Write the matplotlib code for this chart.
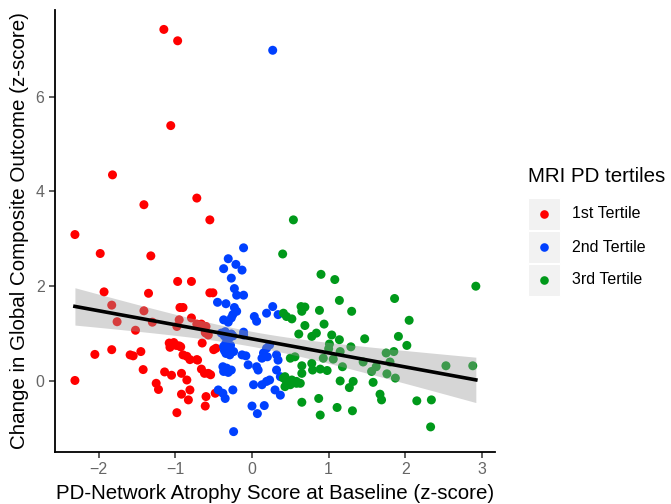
import numpy as np
import matplotlib
matplotlib.use("Agg")
import matplotlib.pyplot as plt
from matplotlib.patches import Rectangle
from matplotlib.lines import Line2D

plt.rcParams["font.family"] = ["Liberation Sans", "DejaVu Sans"]

# 1st tertile (red)
t1_x = [-1.15, -0.97, -1.06, -1.82, -1.41, -0.72, -0.55, -2.31, -1.98, -1.32,
        -0.97, -0.79, -1.93, -1.35, -1.83, -0.94, -0.90, -1.41, -1.76, -1.30,
        -0.79, -0.95, -0.98, -1.52, -0.72, -0.66, -0.60, -0.60, -0.57, -0.55,
        -0.51, -2.05, -1.83, -1.59, -1.55, -1.45, -2.31, -1.42, -1.14, -1.05,
        -1.25, -1.22, -1.08, -1.05, -1.02, -0.99, -0.95, -0.93, -1.07, -0.90,
        -0.85, -0.81, -0.72, -0.65, -0.66, -0.62, -0.57, -0.54, -0.92, -0.85,
        -0.81, -0.83, -0.92, -0.60, -0.61, -0.98, -0.50, -0.47, -0.48, -0.71,
        -0.61]
t1_y = [7.42, 7.18, 5.39, 4.35, 3.72, 3.86, 3.40, 3.09, 2.69, 2.64,
        2.10, 2.10, 1.88, 1.85, 1.60, 1.55, 1.55, 1.48, 1.25, 1.24,
        1.33, 1.29, 1.15, 1.07, 1.20, 1.20, 1.15, 1.01, 0.97, 1.86,
        1.86, 0.56, 0.66, 0.55, 0.53, 0.62, 0.01, 0.24, 0.19, 0.12,
        -0.05, -0.18, 0.80, 0.78, 0.81, 0.75, 0.74, 0.72, 0.71, 0.55,
        0.52, 0.45, 0.45, 0.80, 0.25, 0.16, 0.16, 0.13, 0.16, 0.02,
        -0.19, -0.40, -0.28, -0.33, -0.53, -0.67, 0.66, 0.69, -0.26, 0.44,
        1.02]

# 2nd tertile (blue)
t2_x = [0.27, -0.11, -0.31, -0.21, -0.13, -0.37, -0.27, -0.23, -0.20, -0.11,
        -0.45, -0.34, -0.23, -0.20, -0.25, -0.37, -0.31, -0.27, 0.03, 0.06,
        0.19, 0.27, 0.34, -0.35, -0.11, -0.40, -0.27, -0.33, -0.37, -0.31,
        -0.24, -0.34, -0.29, -0.38, -0.33, -0.27, -0.31, -0.37, -0.08, -0.05,
        0.06, 0.08, 0.15, 0.20, 0.32, 0.34, 0.32, 0.37, 0.02, 0.13,
        0.19, 0.23, 0.30, 0.37, -0.44, -0.38, -0.35, -0.25, 0.00, 0.07,
        0.16, -0.24, 0.23, 0.19, 0.13, -0.36, -0.30, -0.25, -0.34, -0.28,
        -0.36, -0.11, -0.13]
t2_y = [6.98, 2.81, 2.58, 2.46, 2.34, 2.37, 2.17, 1.95, 1.81, 1.81,
        1.66, 1.63, 1.55, 1.47, 1.40, 1.29, 1.24, 1.33, 1.36, 1.26,
        1.43, 1.57, 1.40, 1.04, 1.03, 1.01, 0.99, 0.97, 0.73, 0.69,
        0.62, 0.58, 0.55, 0.30, 0.27, 0.23, 0.18, 0.20, 0.53, 0.34,
        0.30, 0.23, 0.59, 0.51, 0.55, 0.44, 0.23, 0.09, -0.08, -0.08,
        -0.01, 0.02, -0.19, -0.30, -0.19, -0.26, -0.37, -0.19, -0.53, -0.69,
        -0.52, -1.07, 0.76, 0.69, 0.48, 0.95, 0.90, 0.95, 0.80, 0.75,
        0.64, 0.97, 0.55]

# 3rd tertile (green)
t3_x = [0.54, 0.40, 0.90, 1.08, 2.92, 1.14, 1.86, 1.30, 0.69, 0.65,
        0.64, 0.88, 2.05, 0.69, 0.94, 0.61, 0.78, 0.84, 1.04, 1.14,
        1.47, 1.91, 2.02, 1.01, 1.00, 1.29, 1.15, 0.93, 1.06, 1.75,
        1.85, 1.80, 1.45, 1.18, 0.78, 0.79, 0.89, 0.98, 0.65, 0.65,
        1.56, 1.62, 1.76, 1.87, 2.53, 2.88, 1.15, 1.32, 1.27, 1.58,
        0.63, 1.67, 1.69, 2.15, 2.34, 0.65, 0.87, 1.11, 1.31, 0.89,
        2.33, 0.41, 0.45, 0.52, 0.50, 0.56, 0.41, 0.45, 0.52, 0.43,
        0.58, 0.43, 0.50, 0.58]
t3_y = [3.40, 2.68, 2.25, 2.14, 2.00, 1.70, 1.74, 1.47, 1.56, 1.47,
        1.57, 1.49, 1.28, 1.17, 1.20, 0.99, 0.94, 1.01, 0.97, 0.87,
        0.89, 0.94, 0.75, 0.78, 0.68, 0.72, 0.62, 0.48, 0.46, 0.59,
        0.62, 0.40, 0.40, 0.30, 0.37, 0.23, 0.25, 0.22, 0.32, 0.16,
        0.20, 0.30, 0.15, 0.06, 0.32, 0.32, 0.00, -0.01, -0.14, -0.03,
        -0.05, -0.28, -0.40, -0.42, -0.40, -0.45, -0.37, -0.56, -0.63, -0.72,
        -0.97, 1.43, 1.36, 1.31, 0.48, 0.51, 0.06, -0.01, 0.02, -0.12,
        -0.01, 0.09, -0.08, -0.05]

groups = ["1st Tertile", "2nd Tertile", "3rd Tertile"]
colors = ["#FF0000", "#0040FF", "#00991A"]

W, H = 671, 504
fig = plt.figure(figsize=(W / 100, H / 100), dpi=100)
ax = fig.add_axes([55 / W, (H - 452) / H, (495 - 55) / W, (452 - 10) / H])

for gx, gy, c in zip([t1_x, t2_x, t3_x], [t1_y, t2_y, t3_y], colors):
    ax.scatter(gx, gy, s=42, color=c, edgecolors="none", zorder=2)

# linear fit with 95% CI, like geom_smooth(method="lm")
x = np.array(t1_x + t2_x + t3_x)
y = np.array(t1_y + t2_y + t3_y)
n = len(x)
b, a = np.polyfit(x, y, 1)
resid = y - (a + b * x)
s = np.sqrt(np.sum(resid ** 2) / (n - 2))
xs = np.linspace(x.min(), x.max(), 100)
ys = a + b * xs
se = s * np.sqrt(1 / n + (xs - x.mean()) ** 2 / np.sum((x - x.mean()) ** 2))
tval = 1.97
ax.fill_between(xs, ys - tval * se, ys + tval * se, color="#999999", alpha=0.4,
                linewidth=0, zorder=3)
ax.plot(xs, ys, color="black", linewidth=2.6, zorder=4)

ax.set_xlim(-2.57, 3.17)
ax.set_ylim(-1.5, 7.83)
ax.set_xticks([-2, -1, 0, 1, 2, 3])
ax.set_yticks([0, 2, 4, 6])
for side in ["top", "right"]:
    ax.spines[side].set_visible(False)
for side in ["left", "bottom"]:
    ax.spines[side].set_linewidth(1.3)
    ax.spines[side].set_color("black")
ax.tick_params(length=4, width=1.1, color="#333333", labelcolor="#666666",
               labelsize=11.5)
ax.set_xlabel("PD-Network Atrophy Score at Baseline (z-score)", fontsize=14.8,
              color="black", labelpad=5)
ax.set_ylabel("Change in Global Composite Outcome (z-score)", fontsize=14.8,
              color="black", labelpad=5)

# legend drawn in pixel coordinates
def fx(px):
    return px / W

def fy(py):
    return 1 - py / H

fig.text(fx(528), fy(177), "MRI PD tertiles", fontsize=14.8, va="center", ha="left")
for i, (lab, c) in enumerate(zip(groups, colors)):
    top = 198 + i * 33
    fig.add_artist(Rectangle((fx(528), fy(top + 32)), 32 / W, 32 / H,
                             transform=fig.transFigure, facecolor="#F2F2F2",
                             edgecolor="white", linewidth=0.8))
    fig.add_artist(Line2D([fx(544)], [fy(top + 16)], marker="o", markersize=6.2,
                          color=c, markeredgewidth=0, transform=fig.transFigure))
    fig.text(fx(572), fy(top + 16), lab, fontsize=11.5, va="center", ha="left")

fig.savefig("out.png", dpi=100)
